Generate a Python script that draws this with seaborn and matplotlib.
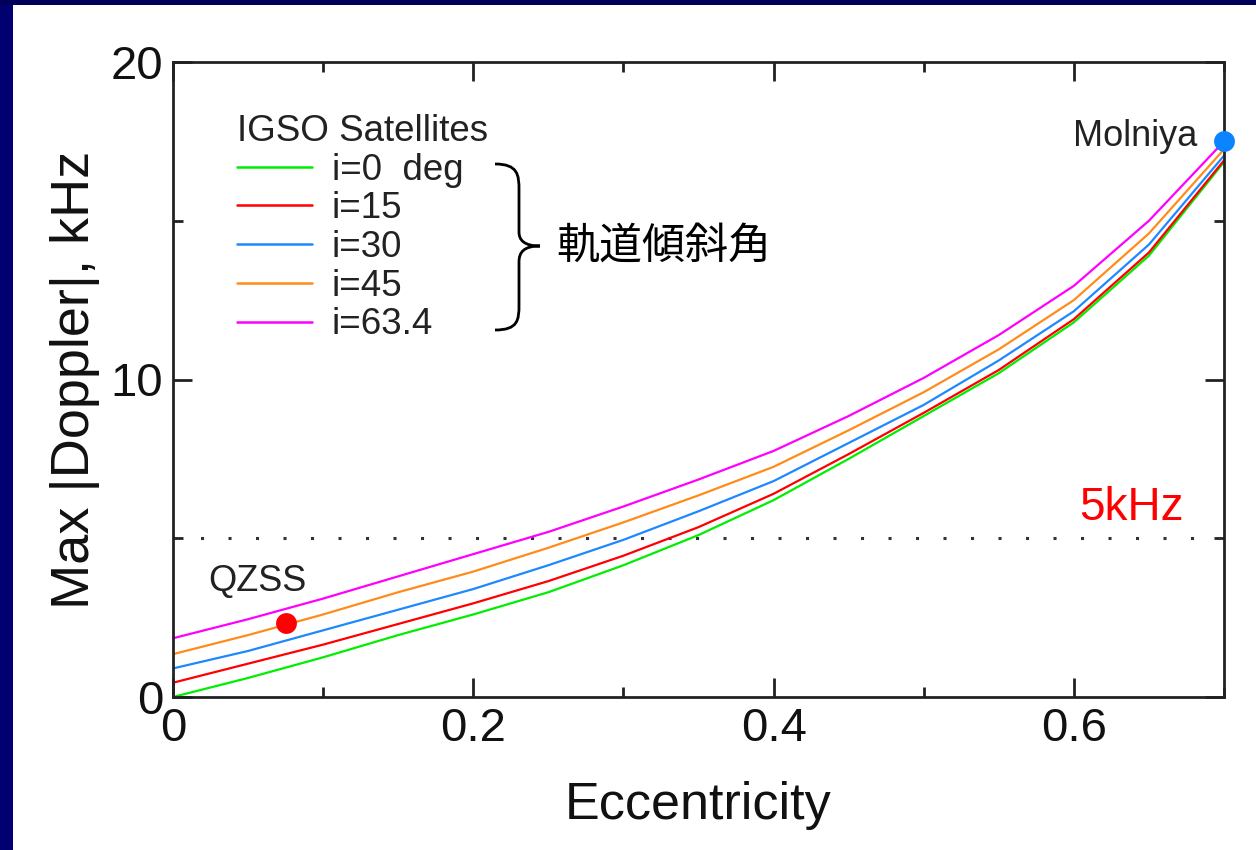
import matplotlib
matplotlib.use("Agg")
import matplotlib.pyplot as plt
from matplotlib.path import Path
from matplotlib.patches import PathPatch, Rectangle
from matplotlib.ticker import MultipleLocator
import numpy as np
import pandas as pd
import seaborn as sns

# ---------------- data ----------------
eccentricity = [0.0, 0.05, 0.10, 0.15, 0.20, 0.25, 0.30, 0.35, 0.40, 0.45, 0.50, 0.55, 0.60, 0.65, 0.70]
doppler_i0   = [0.00, 0.60, 1.25, 1.95, 2.60, 3.30, 4.15, 5.10, 6.20, 7.50, 8.85, 10.20, 11.80, 13.90, 16.85]
doppler_i15  = [0.45, 1.05, 1.65, 2.30, 2.95, 3.65, 4.45, 5.35, 6.40, 7.65, 8.95, 10.30, 11.90, 14.00, 16.90]
doppler_i30  = [0.90, 1.45, 2.10, 2.75, 3.40, 4.15, 4.95, 5.85, 6.80, 8.00, 9.20, 10.60, 12.15, 14.25, 17.05]
doppler_i45  = [1.35, 1.95, 2.60, 3.30, 3.95, 4.70, 5.50, 6.35, 7.25, 8.40, 9.60, 10.95, 12.50, 14.60, 17.25]
doppler_i634 = [1.85, 2.45, 3.10, 3.80, 4.50, 5.20, 6.00, 6.85, 7.75, 8.85, 10.05, 11.40, 12.95, 15.00, 17.50]
series_labels = ["i=0  deg", "i=15", "i=30", "i=45", "i=63.4"]
series_colors = ["#00ee00", "#ff0000", "#1e88ff", "#ff8c1a", "#ff00ff"]

qzss_point = (0.075, 2.33)
molniya_point = (0.70, 17.50)
threshold_khz = 5.0

x_ticks = [0, 0.2, 0.4, 0.6]
x_tick_labels = ["0", "0.2", "0.4", "0.6"]
y_ticks = [0, 10, 20]
y_tick_labels = ["0", "10", "20"]

# ---------------- build frame ----------------
all_series = [doppler_i0, doppler_i15, doppler_i30, doppler_i45, doppler_i634]
frames = []
for lab, vals in zip(series_labels, all_series):
    frames.append(pd.DataFrame({"e": eccentricity, "d": vals, "s": lab}))
df = pd.concat(frames, ignore_index=True)

# ---------------- style ----------------
sns.set_style("ticks")
plt.rcParams["font.family"] = ["Liberation Sans", "Noto Sans CJK JP", "DejaVu Sans"]
plt.rcParams["axes.linewidth"] = 2.0
plt.rcParams["axes.edgecolor"] = "#222222"

fig = plt.figure(figsize=(12.56, 8.5), dpi=100)
fig.patch.set_facecolor("white")
# slide border (navy strips left & top)
fig.patches.append(Rectangle((0, 0), 13 / 1256, 1, transform=fig.transFigure,
                             facecolor="#000070", edgecolor="none", zorder=0))
fig.patches.append(Rectangle((0, 1 - 5 / 850), 1, 5 / 850, transform=fig.transFigure,
                             facecolor="#00005a", edgecolor="none", zorder=0))

ax = fig.add_axes([173 / 1256, 1 - 697 / 850, (1224 - 173) / 1256, (697 - 62) / 850])

sns.lineplot(data=df, x="e", y="d", hue="s", hue_order=series_labels,
             palette=series_colors, linewidth=1.6, ax=ax, legend=True)

# 5 kHz dotted line
ax.axhline(threshold_khz, color="#333333", linestyle=(0, (1, 8)), linewidth=2.2, zorder=1)

# markers
ax.plot([qzss_point[0]], [qzss_point[1]], marker="o", markersize=15, color="#ff0000",
        markeredgewidth=0, zorder=5, clip_on=False)
ax.plot([molniya_point[0]], [molniya_point[1]], marker="o", markersize=15, color="#0a84ff",
        markeredgewidth=0, zorder=5, clip_on=False)

ax.set_xlim(0, 0.7)
ax.set_ylim(0, 20)
ax.set_xticks(x_ticks)
ax.set_xticklabels(x_tick_labels)
ax.set_yticks(y_ticks)
ax.set_yticklabels(y_tick_labels)
ax.xaxis.set_minor_locator(MultipleLocator(0.1))
ax.yaxis.set_minor_locator(MultipleLocator(5))
ax.tick_params(which="both", direction="in", top=True, right=True, color="#222222", width=2)
ax.tick_params(which="major", length=14, labelsize=34, pad=7, labelcolor="#111111")
ax.tick_params(which="minor", length=7)
for sp in ax.spines.values():
    sp.set_visible(True)

ax.set_xlabel("Eccentricity", fontsize=37.5, labelpad=22, color="#111111")
ax.set_ylabel("Max |Doppler|, kHz", fontsize=39, labelpad=8, color="#111111")

# legend
handles, labels = ax.get_legend_handles_labels()
leg = ax.legend(handles, labels, title="IGSO Satellites", loc="upper left",
                bbox_to_anchor=((237 - 173) / 1051, (697 - 114) / 635),
                frameon=False, fontsize=26.5, title_fontsize=26.5,
                handlelength=2.04, handletextpad=0.54, labelspacing=0.10,
                borderpad=0, borderaxespad=0, alignment="left")
for t in leg.get_texts():
    t.set_color("#222222")
leg.get_title().set_color("#222222")
for h in leg.get_lines():
    h.set_linewidth(1.8)

# curly brace (axes fraction coords)
def fx(px):
    return (px - 173) / 1051.0

def fy(py):
    return (697 - py) / 635.0

verts = [
    (fx(495), fy(164)),
    (fx(518), fy(164)), (fx(519), fy(175)), (fx(519), fy(190)),
    (fx(519), fy(232)),
    (fx(519), fy(240)), (fx(524), fy(246)), (fx(540), fy(246)),
    (fx(524), fy(246)), (fx(519), fy(252)), (fx(519), fy(262)),
    (fx(519), fy(305)),
    (fx(519), fy(320)), (fx(518), fy(330)), (fx(495), fy(330)),
]
codes = [Path.MOVETO,
         Path.CURVE4, Path.CURVE4, Path.CURVE4,
         Path.LINETO,
         Path.CURVE4, Path.CURVE4, Path.CURVE4,
         Path.CURVE4, Path.CURVE4, Path.CURVE4,
         Path.LINETO,
         Path.CURVE4, Path.CURVE4, Path.CURVE4]
ax.add_patch(PathPatch(Path(verts, codes), transform=ax.transAxes, facecolor="none",
                       edgecolor="black", linewidth=2.0, clip_on=False))

# annotations
ax.text(fx(556), fy(248), "軌道傾斜角", transform=ax.transAxes, fontsize=31,
        ha="left", va="center", color="black",
        family=["Noto Sans CJK JP", "DejaVu Sans"])
ax.text(fx(208), fy(582), "QZSS", transform=ax.transAxes, fontsize=26,
        ha="left", va="center", color="#222222")
ax.text(fx(1197), fy(136), "Molniya", transform=ax.transAxes, fontsize=26,
        ha="right", va="center", color="#222222")
ax.text(fx(1184), fy(508), "5kHz", transform=ax.transAxes, fontsize=33,
        ha="right", va="center", color="#ff0000")

fig.savefig("out.png", dpi=100, facecolor="white")
